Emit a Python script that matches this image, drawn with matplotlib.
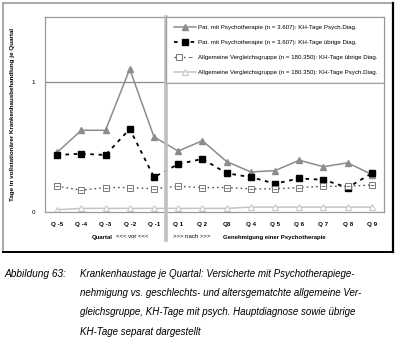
import numpy as np
import matplotlib.pyplot as plt
from matplotlib.lines import Line2D
from matplotlib.legend_handler import HandlerTuple

# Quarters relative to start of psychotherapy approval
quarters = ["Q -5", "Q -4", "Q -3", "Q -2", "Q -1",
            "Q 1", "Q 2", "Q3", "Q 4", "Q 5", "Q 6", "Q 7", "Q 8", "Q 9"]

# Days in hospital per quarter
pat_psych = [0.46, 0.63, 0.63, 1.10, 0.58, 0.47, 0.55, 0.39, 0.31, 0.32, 0.40, 0.35, 0.38, 0.29]
pat_other = [0.44, 0.45, 0.44, 0.64, 0.27, 0.37, 0.41, 0.30, 0.27, 0.22, 0.26, 0.25, 0.19, 0.30]
ref_other = [0.20, 0.17, 0.19, 0.19, 0.18, 0.20, 0.19, 0.19, 0.18, 0.18, 0.19, 0.20, 0.20, 0.21]
ref_psych = [0.02, 0.03, 0.03, 0.03, 0.03, 0.03, 0.03, 0.03, 0.04, 0.04, 0.04, 0.04, 0.04, 0.04]

labels = ["Pat. mit Psychotherapie (n = 3.607): KH-Tage Psych.Diag.",
          "Pat. mit Psychotherapie (n = 3.607): KH-Tage übrige Diag.",
          "Allgemeine Vergleichsgruppe (n = 180.350): KH-Tage übrige Diag.",
          "Allgemeine Vergleichsgruppe (n = 180.350): KH-Tage Psych.Diag."]

caption_head = "Abbildung 63:"
caption_lines = ["Krankenhaustage je Quartal: Versicherte mit Psychotherapiege-",
                 "nehmigung vs. geschlechts- und altersgematchte allgemeine Ver-",
                 "gleichsgruppe, KH-Tage mit psych. Hauptdiagnose sowie übrige",
                 "KH-Tage separat dargestellt"]

plt.rcParams['font.family'] = ['Liberation Sans', 'DejaVu Sans']

fig = plt.figure(figsize=(4, 3.44), dpi=100)
W, H = 400, 344

def fx(px):
    return px / W

def fy(py):
    return 1 - py / H

# outer frame around the chart
fig.add_artist(Line2D([fx(3), fx(393)], [fy(3), fy(3)], color="#999999", lw=1.2))
fig.add_artist(Line2D([fx(3), fx(3)], [fy(3), fy(252)], color="#999999", lw=1.2))
fig.add_artist(Line2D([fx(393), fx(393)], [fy(3), fy(252)], color="black", lw=1.6))
fig.add_artist(Line2D([fx(3), fx(393)], [fy(252), fy(252)], color="black", lw=1.4))

ax = fig.add_axes([fx(45), fy(212.3), fx(384) - fx(45), fy(17) - fy(212.3)])
x = np.arange(len(quarters))

h1, = ax.plot(x, pat_psych, color="#8c8c8c", lw=1.1, marker="^", ms=4.5,
              mfc="#8c8c8c", mec="#8c8c8c")
h2, = ax.plot(x, pat_other, color="black", lw=1.3, ls=(0, (2.0, 2.6)),
              marker="s", ms=4.2, mfc="black", mec="black")
h3a, = ax.plot(x, ref_other, color="#555555", lw=1.0, ls=(0, (1.2, 2.2)),
               marker="s", ms=4.2, mfc="white", mec="#777777", mew=0.7)
h3b, = ax.plot(x, ref_other, ls="none", marker="_", ms=3.2, mec="#777777", mew=0.7)
h4, = ax.plot(x, ref_psych, color="#c4c4c4", lw=1.1, marker="^", ms=4.5,
              mfc="white", mec="#c4c4c4", mew=0.7)

ax.set_xlim(-0.5, len(quarters) - 0.5)
ax.set_ylim(0, 1.5)
ax.set_yticks([0, 1])
ax.set_yticklabels(["0", "1"], fontsize=4.5)
ax.set_xticks(x)
ax.set_xticklabels(quarters, fontsize=4.5, fontweight="bold")
ax.tick_params(length=0, pad=7)
ax.tick_params(axis="y", pad=7)
ax.axhline(1, color="#8c8c8c", lw=0.9)
for s in ax.spines.values():
    s.set_color("#9a9a9a")
    s.set_linewidth(0.9)

# divider between before and after
ax.plot([4.5, 4.5], [-0.21, 1.5], color="#c0c0c0", lw=2.6, clip_on=False, zorder=5)

ax.set_ylabel("Tage in vollstationärer Krankenhausbehandlung je Quartal",
              fontsize=4.5, fontweight="bold", labelpad=12)

leg = ax.legend([h1, h2, (h3a, h3b), h4], labels,
                handler_map={tuple: HandlerTuple(ndivide=None, pad=0)},
                loc="upper left", bbox_to_anchor=(0.357, 1.0, 0.643, 0.0),
                mode="expand", fontsize=4.4, frameon=True, fancybox=False,
                edgecolor="#8c8c8c", borderpad=1.3, labelspacing=1.6,
                handlelength=3.6, handletextpad=0.4, borderaxespad=0)
leg.get_frame().set_linewidth(0.8)

# annotation below the axis
fig.text(fx(92), fy(237), "Quartal", fontsize=4.3, fontweight="bold", va="center")
fig.text(fx(116), fy(237), "<<< vor <<<", fontsize=4.3, va="center")
fig.text(fx(173), fy(237), ">>> nach >>>", fontsize=4.3, va="center")
fig.text(fx(223), fy(237), "Genehmigung einer Psychotherapie", fontsize=4.3,
         fontweight="bold", va="center")

# caption
fig.text(fx(5), fy(274), caption_head, fontsize=7.3, style="italic", va="center")
for i, line in enumerate(caption_lines):
    fig.text(fx(80), fy(274 + 19.2 * i), line, fontsize=7, style="italic", va="center")

fig.savefig("out.png", dpi=100)
